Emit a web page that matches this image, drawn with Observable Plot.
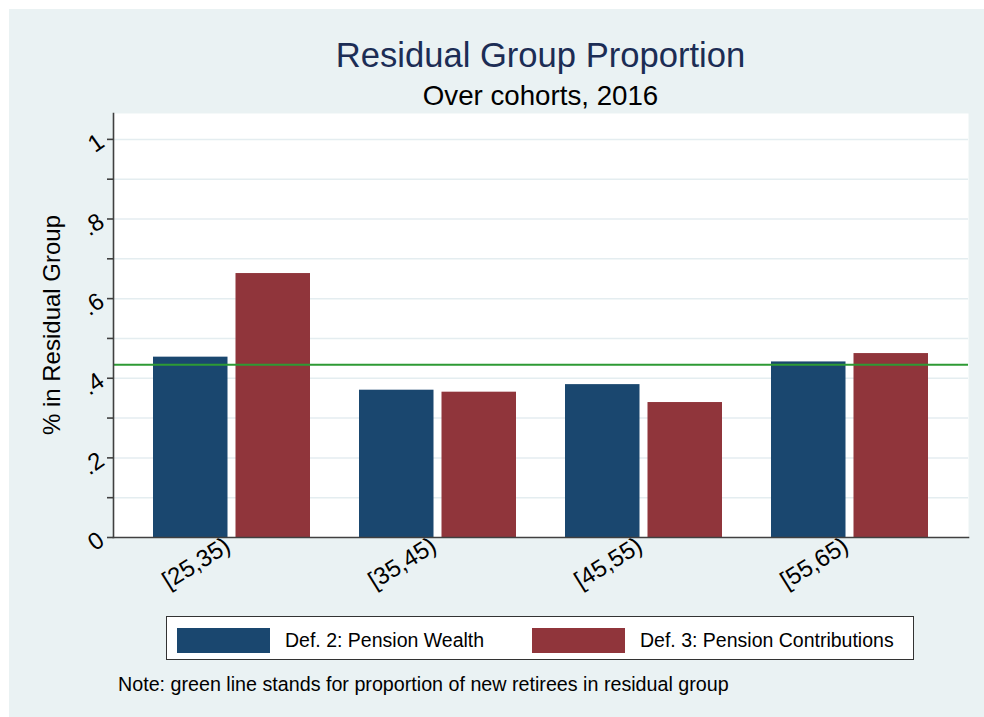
<!DOCTYPE html>
<html>
<head>
<meta charset="utf-8">
<script src="https://cdn.jsdelivr.net/npm/d3@7"></script>
<script src="https://cdn.jsdelivr.net/npm/@observablehq/plot@0.6"></script>
<style>
  html, body { margin: 0; padding: 0; background: #ffffff; }
  body { width: 984px; height: 717px; position: relative; overflow: hidden;
         font-family: "Liberation Sans", Arial, sans-serif; color: #000; }
  #panel { position: absolute; left: 9px; top: 9px; width: 975px; height: 708px; background: #EAF2F3; }
  .t { position: absolute; white-space: nowrap; }
  #title { left: 0; width: 1081px; text-align: center; top: 37.7px; font-size: 34.6px; line-height: 34.6px; color: #1C2D55; }
  #subtitle { left: 0; width: 1081px; text-align: center; top: 81.6px; font-size: 27.7px; line-height: 27.7px; color: #000; }
  #ytitle { left: 52px; top: 325px; font-size: 24px; line-height: 24px; transform: translate(-50%, -50%) rotate(-90deg); }
  #chart { position: absolute; left: 0; top: 100px; }
  #legend { position: absolute; left: 166px; top: 615.5px; width: 748px; height: 44px; background: #fff; border: 1.2px solid #333; box-sizing: border-box; }
  .sw { position: absolute; top: 11px; width: 93px; height: 25px; }
  .lt { position: absolute; top: 14.5px; font-size: 19.5px; line-height: 19.5px; white-space: nowrap; }
  #note { left: 118px; top: 675px; font-size: 19.7px; line-height: 19.7px; }
</style>
</head>
<body>
<div id="panel"></div>
<div id="title" class="t">Residual Group Proportion</div>
<div id="subtitle" class="t">Over cohorts, 2016</div>
<div id="ytitle" class="t">% in Residual Group</div>
<div id="chart"></div>
<div id="legend"></div>
<div id="note" class="t">Note: green line stands for proportion of new retirees in residual group</div>
<script>
// ---- data ----
const cohorts = ["[25,35)", "[35,45)", "[45,55)", "[55,65)"];
const seriesNames = ["Def. 2: Pension Wealth", "Def. 3: Pension Contributions"];
const def2Values = [0.453, 0.370, 0.384, 0.441];
const def3Values = [0.663, 0.365, 0.339, 0.462];
const newRetireesShare = [0.434];
const yMajorTicks = [0, 0.2, 0.4, 0.6, 0.8, 1];
const yMinorTicks = [0.1, 0.3, 0.5, 0.7, 0.9];
const yGridTicks = [0.1, 0.2, 0.3, 0.4, 0.5, 0.6, 0.7, 0.8, 0.9, 1];
const yMax = 1.065;
const seriesColors = ["#1A476F", "#90353B"];

const def2Rows = cohorts.map((c, i) => ({cohort: c, value: def2Values[i]}));
const def3Rows = cohorts.map((c, i) => ({cohort: c, value: def3Values[i]}));

const fmt = d => d === 0 ? "0" : d === 1 ? "1" : String(d).replace(/^0/, "");

const axisColor = "#404040";
const chart = Plot.plot({
  width: 984,
  height: 510,
  marginLeft: 113,
  marginRight: 16,
  marginTop: 13,
  marginBottom: 73,
  style: {fontFamily: "'Liberation Sans', Arial, sans-serif", fontSize: "24px", background: "transparent", color: "#000"},
  x: {domain: cohorts, paddingInner: 0.236, paddingOuter: 0.192},
  y: {domain: [0, yMax]},
  marks: [
    Plot.frame({fill: "white", stroke: "none"}),
    Plot.gridY(yGridTicks, {stroke: "#E4EDF0", strokeOpacity: 1, strokeWidth: 1.5}),
    Plot.barY(def2Rows, {x: "cohort", y: "value", fill: seriesColors[0], insetRight: 82.5}),
    Plot.barY(def3Rows, {x: "cohort", y: "value", fill: seriesColors[1], insetLeft: 82.5}),
    Plot.ruleY(newRetireesShare, {stroke: "#2E9A34", strokeWidth: 2}),
    Plot.frame({anchor: "left", stroke: axisColor, strokeWidth: 1.6}),
    Plot.frame({anchor: "bottom", stroke: axisColor, strokeWidth: 1.6}),
    Plot.axisY({ticks: yMinorTicks, tickFormat: () => "", tickSize: 6, stroke: axisColor, strokeWidth: 1.6, label: null}),
    Plot.axisY({ticks: yMajorTicks, tickFormat: fmt, tickSize: 6, tickPadding: 6, tickRotate: -35, stroke: axisColor, strokeWidth: 1.6, fill: "#000", fontSize: 24, label: null}),
    Plot.axisX({tickSize: 0, tickPadding: 6, tickRotate: -32, dx: -4, fill: "#000", fontSize: 24, label: null})
  ]
});
document.getElementById("chart").appendChild(chart);

// legend
const legend = document.getElementById("legend");
const swLeft = [10, 365];
seriesNames.forEach((name, i) => {
  const sw = document.createElement("div");
  sw.className = "sw";
  sw.style.left = swLeft[i] + "px";
  sw.style.background = seriesColors[i];
  legend.appendChild(sw);
  const lt = document.createElement("div");
  lt.className = "lt";
  lt.style.left = (swLeft[i] + 108) + "px";
  lt.textContent = name;
  legend.appendChild(lt);
});
</script>
</body>
</html>
